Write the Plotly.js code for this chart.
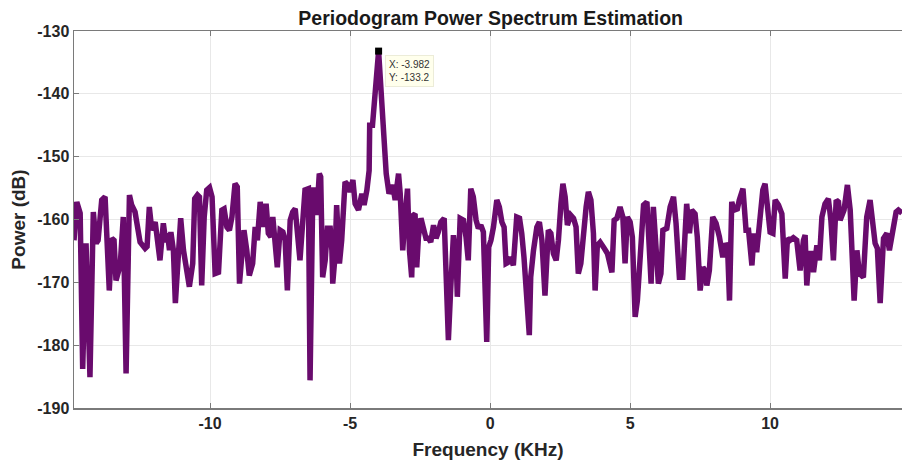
<!DOCTYPE html>
<html>
<head>
<meta charset="utf-8">
<script src="https://cdn.plot.ly/plotly-3.0.1.min.js"></script>
<style>
html,body{margin:0;padding:0;background:#fff;}
#chart{width:902px;height:466px;}
</style>
</head>
<body>
<div id="chart"></div>
<script>
// Frequency (KHz) of the traced vertices
const freq = [
-14.86,-14.76,-14.64,-14.55,-14.43,-14.29,-14.17,-14.07,-14.00,-13.87,
-13.75,-13.60,-13.51,-13.43,-13.36,-13.28,-13.21,-13.10,-13.00,-12.88,
-12.80,-12.68,-12.50,-12.32,-12.25,-12.17,-12.08,-11.96,-11.85,-11.79,
-11.67,-11.58,-11.52,-11.45,-11.40,-11.31,-11.24,-11.13,-11.05,-10.95,
-10.86,-10.74,-10.62,-10.55,-10.45,-10.38,-10.30,-10.21,-10.12,-10.02,
-9.93,-9.82,-9.70,-9.58,-9.50,-9.40,-9.31,-9.22,-9.11,-9.03,
-8.95,-8.87,-8.79,-8.69,-8.60,-8.48,-8.39,-8.31,-8.21,-8.10,
-8.00,-7.92,-7.83,-7.76,-7.68,-7.60,-7.50,-7.40,-7.32,-7.24,
-7.14,-7.05,-6.96,-6.88,-6.79,-6.61,-6.49,-6.43,-6.33,-6.25,
-6.19,-6.10,-6.05,-5.98,-5.89,-5.81,-5.71,-5.65,-5.62,-5.54,
-5.48,-5.38,-5.30,-5.18,-5.08,-5.00,-4.90,-4.82,-4.70,-4.58,
-4.50,-4.40,-4.32,-4.30,-4.20,-3.982,-3.71,-3.61,-3.48,-3.39,
-3.27,-3.21,-3.12,-3.04,-2.95,-2.88,-2.80,-2.74,-2.68,-2.62,
-2.56,-2.47,-2.38,-2.29,-2.20,-2.12,-2.02,-1.93,-1.85,-1.76,
-1.64,-1.49,-1.41,-1.31,-1.21,-1.17,-1.07,-0.95,-0.86,-0.78,
-0.69,-0.60,-0.50,-0.42,-0.33,-0.24,-0.12,-0.05,0.03,0.12,
0.24,0.33,0.42,0.50,0.57,0.65,0.74,0.83,0.95,1.05,
1.13,1.21,1.40,1.45,1.55,1.67,1.76,1.85,1.96,2.08,
2.17,2.26,2.36,2.44,2.53,2.60,2.68,2.76,2.88,2.98,
3.07,3.15,3.24,3.33,3.43,3.51,3.60,3.69,3.75,3.83,
3.93,4.05,4.19,4.35,4.43,4.53,4.64,4.74,4.82,4.90,
5.00,5.08,5.18,5.26,5.36,5.48,5.60,5.69,5.75,5.83,
5.93,6.01,6.10,6.17,6.31,6.43,6.55,6.64,6.76,6.88,
7.02,7.12,7.20,7.32,7.40,7.50,7.60,7.68,7.74,7.83,
7.95,8.07,8.19,8.31,8.40,8.48,8.55,8.63,8.71,8.83,
8.90,9.03,9.14,9.23,9.35,9.43,9.52,9.62,9.74,9.82,
9.90,10.00,10.10,10.18,10.30,10.42,10.54,10.62,10.71,10.83,
10.95,11.07,11.19,11.25,11.31,11.40,11.49,11.55,11.67,11.76,
11.85,11.96,12.08,12.17,12.26,12.36,12.44,12.50,12.64,12.76,
12.86,13.00,13.10,13.19,13.33,13.45,13.57,13.67,13.75,13.83,
13.93,14.05,14.17,14.26,14.38,14.50,14.58,14.71
];
// Power (dB)
const power = [
-163.3,-157.2,-159.0,-183.8,-163.8,-185.1,-158.8,-163.8,-163.3,-156.9,
-156.4,-171.3,-163.0,-163.3,-169.7,-168.1,-167.3,-159.6,-184.5,-156.1,
-157.7,-158.8,-163.6,-164.6,-164.3,-158.0,-161.7,-160.4,-164.9,-166.5,
-160.6,-163.6,-162.2,-164.9,-162.0,-164.9,-173.3,-163.3,-159.8,-164.9,
-168.1,-170.7,-167.0,-156.7,-156.1,-156.4,-170.5,-159.6,-155.3,-154.9,
-156.4,-168.6,-168.4,-158.5,-158.3,-161.2,-161.7,-159.6,-154.3,-154.8,
-170.2,-164.9,-161.7,-164.9,-168.9,-167.0,-161.2,-163.3,-157.2,-161.2,
-157.5,-162.2,-162.8,-159.6,-163.6,-167.6,-161.7,-162.0,-163.3,-171.3,
-160.1,-158.8,-158.3,-161.7,-166.5,-155.3,-155.1,-185.6,-155.3,-155.3,
-159.3,-152.7,-153.2,-169.2,-166.5,-161.4,-161.4,-164.9,-170.2,-166.0,
-157.7,-167.0,-163.3,-154.0,-154.5,-155.6,-153.7,-157.5,-158.5,-155.9,
-157.7,-155.3,-152.2,-145.0,-145.0,-133.2,-152.7,-155.9,-154.5,-156.9,
-152.7,-155.9,-164.9,-159.6,-155.1,-164.9,-169.2,-159.3,-159.1,-167.6,
-162.8,-159.8,-161.7,-163.0,-163.0,-163.6,-160.9,-163.0,-162.0,-160.4,
-159.8,-179.2,-171.3,-162.5,-166.5,-172.3,-159.8,-160.1,-162.8,-166.5,
-155.1,-156.4,-160.1,-161.4,-160.9,-162.0,-179.5,-164.4,-163.3,-161.2,
-156.9,-158.0,-160.4,-161.2,-167.0,-166.8,-166.0,-167.3,-159.6,-159.8,
-162.2,-166.0,-178.4,-169.2,-164.9,-161.2,-160.4,-163.3,-172.1,-161.7,
-162.2,-165.4,-166.5,-163.3,-157.5,-154.3,-156.4,-160.9,-159.3,-159.8,
-161.2,-168.6,-167.0,-161.4,-158.0,-155.6,-156.9,-162.2,-171.3,-164.1,
-163.6,-164.4,-165.4,-168.4,-160.1,-159.8,-158.0,-159.6,-167.0,-159.6,
-160.4,-162.8,-175.5,-172.9,-166.5,-157.7,-157.2,-163.8,-170.2,-158.0,
-163.8,-170.2,-168.6,-161.7,-161.4,-158.0,-156.4,-160.6,-169.2,-169.2,
-157.5,-162.2,-158.5,-159.1,-162.8,-171.3,-167.6,-168.1,-170.5,-168.1,
-159.6,-160.6,-162.8,-166.0,-163.8,-164.4,-172.9,-157.2,-158.5,-158.3,
-156.9,-155.1,-161.7,-161.7,-167.3,-162.2,-165.2,-159.6,-155.3,-154.3,
-157.2,-162.0,-162.2,-156.9,-157.7,-159.1,-169.4,-163.0,-163.3,-162.9,
-163.3,-168.1,-163.3,-162.5,-170.5,-165.4,-165.4,-168.4,-164.1,-166.5,
-159.6,-157.5,-156.7,-160.1,-166.5,-156.9,-157.2,-160.1,-158.5,-154.5,
-158.5,-172.9,-164.9,-168.6,-169.2,-159.6,-156.9,-160.1,-163.8,-164.6,
-173.3,-163.0,-162.2,-164.9,-161.7,-158.8,-158.5,-159.0
];
// Data tip
const tipX = [-3.982];
const tipY = [-133.2];
const xTicks = [-10, -5, 0, 5, 10];
const yTicks = [-190, -180, -170, -160, -150, -140, -130];

const font = 'Liberation Sans, Arial, Helvetica, sans-serif';
const traces = [
  {x: freq, y: power, type: 'scatter', mode: 'lines',
   line: {color: '#690b6d', width: 5.5, shape: 'linear'}, hoverinfo: 'none'},
  {x: tipX, y: tipY, type: 'scatter', mode: 'markers',
   marker: {color: '#000', size: 7, symbol: 'square'}, hoverinfo: 'none'}
];
const layout = {
  width: 902, height: 466,
  margin: {l: 74, r: 0, t: 31, b: 58},
  paper_bgcolor: '#fff', plot_bgcolor: '#fff',
  showlegend: false,
  title: {text: '<b>Periodogram Power Spectrum Estimation</b>',
          font: {family: font, size: 19.5, color: '#1a1a1a'},
          x: 0.544, xanchor: 'center', y: 0.962, yanchor: 'middle'},
  xaxis: {
    range: [-14.86, 14.71], tickvals: xTicks, ticktext: xTicks.map(String),
    ticks: 'inside', ticklen: 5, tickcolor: '#7a7a7a',
    showline: true, linecolor: '#7a7a7a', linewidth: 1.5, mirror: 'ticks',
    showgrid: true, gridcolor: '#e8e8e8', gridwidth: 1, zeroline: false,
    tickfont: {family: font, size: 16, color: '#262626', weight: 'bold'},
    title: {text: '<b>Frequency (KHz)</b>', font: {family: font, size: 19, color: '#262626'}, standoff: 12}
  },
  yaxis: {
    range: [-190, -130], tickvals: yTicks, ticktext: yTicks.map(String),
    ticks: 'inside', ticklen: 5, tickcolor: '#7a7a7a',
    showline: true, linecolor: '#7a7a7a', linewidth: 1.5, mirror: false,
    showgrid: true, gridcolor: '#e8e8e8', gridwidth: 1, zeroline: false,
    tickfont: {family: font, size: 16, color: '#262626', weight: 'bold'},
    title: {text: '<b>Power (dB)</b>', font: {family: font, size: 19, color: '#262626'}, standoff: 6}
  },
  annotations: [{
    x: tipX[0], y: tipY[0], xref: 'x', yref: 'y',
    text: 'X: ' + tipX[0] + '<br>Y: ' + tipY[0],
    showarrow: false, xanchor: 'left', yanchor: 'top', align: 'left',
    xshift: 6, yshift: -4,
    font: {family: font, size: 10, color: '#333'},
    bgcolor: 'rgba(255,255,235,0.95)', bordercolor: '#ececd8', borderwidth: 1, borderpad: 3
  }]
};
Plotly.newPlot('chart', traces, layout, {staticPlot: true, displayModeBar: false});
</script>
</body>
</html>
